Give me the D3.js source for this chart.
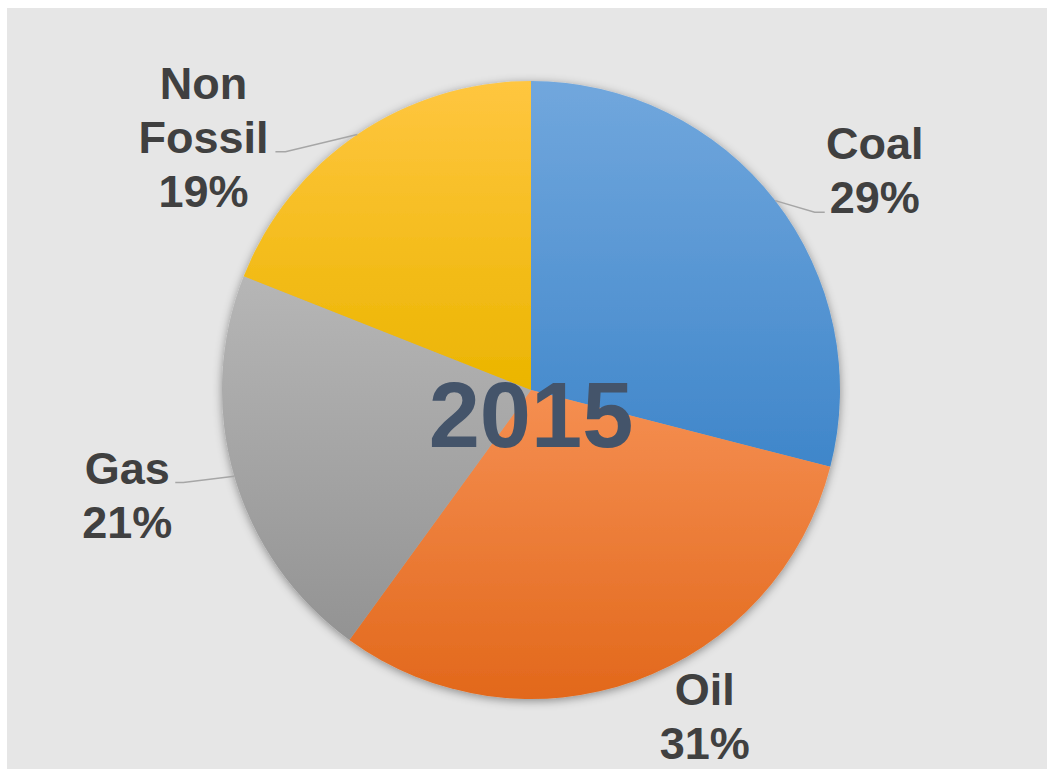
<!DOCTYPE html>
<html>
<head>
<meta charset="utf-8">
<script src="https://cdn.jsdelivr.net/npm/d3@7"></script>
<style>
  html, body { margin: 0; padding: 0; background: #fff; }
  svg { display: block; }
</style>
</head>
<body>
<div id="app"></div>
<script>
// data
const categories = ['Coal', 'Oil', 'Gas', 'Non Fossil'];
const shares = [29, 31, 21, 19];
const labelLines = [['Coal', '29%'], ['Oil', '31%'], ['Gas', '21%'], ['Non', 'Fossil', '19%']];
const yearTitle = '2015';

const W = 1047, H = 769;
const cx = 531, cy = 390, R = 309;

// per-slice gradient colours (top -> bottom)
const gradTop = ['#71a7dd', '#f58f52', '#b6b6b6', '#ffc640'];
const gradBottom = ['#3f86ca', '#e2681b', '#939393', '#ebb500'];

// label placement: polar angle (deg) + radius of text block centre, leader end offset
const labelLayout = [
  { a: 57.4, r: 408, lead: [-50, 42], tail: -10 },
  { a: 151.9, r: 369, lead: null },
  { a: 255.5, r: 417, lead: [48, -12], tail: 8 },
  { a: 307.7, r: 414, lead: [72, 15], tail: 10 }
];

const svg = d3.select('#app').append('svg')
  .attr('width', W).attr('height', H);

const defs = svg.append('defs');
const shadow = defs.append('filter').attr('id', 'shadow')
  .attr('x', '-20%').attr('y', '-20%').attr('width', '140%').attr('height', '140%');
shadow.append('feDropShadow')
  .attr('dx', 0).attr('dy', 2).attr('stdDeviation', 5)
  .attr('flood-color', '#000').attr('flood-opacity', 0.4);

categories.forEach((c, i) => {
  const g = defs.append('linearGradient').attr('id', 'grad' + i)
    .attr('x1', 0).attr('y1', 0).attr('x2', 0).attr('y2', 1);
  g.append('stop').attr('offset', '0%').attr('stop-color', gradTop[i]);
  g.append('stop').attr('offset', '100%').attr('stop-color', gradBottom[i]);
});

svg.append('rect')
  .attr('x', 7).attr('y', 8).attr('width', W - 7).attr('height', H - 8)
  .attr('fill', '#e6e6e6');

const pie = d3.pie().sort(null).value(d => d)(shares);
const arc = d3.arc().innerRadius(0).outerRadius(R);

const chart = svg.append('g').attr('transform', `translate(${cx},${cy})`);

chart.append('g').attr('filter', 'url(#shadow)')
  .selectAll('path')
  .data(pie)
  .enter()
  .append('path')
  .attr('d', arc)
  .attr('fill', (d, i) => `url(#grad${i})`);

// labels + leader lines
const fontSize = 45, lineH = 54, capH = fontSize * 0.716;
const labels = chart.append('g')
  .attr('font-family', '"Liberation Sans", Arial, sans-serif')
  .attr('font-weight', 'bold')
  .attr('font-size', fontSize)
  .attr('fill', '#404040')
  .attr('text-anchor', 'middle');

pie.forEach((d, i) => {
  const L = labelLayout[i];
  const [lx, ly] = d3.pointRadial(L.a * Math.PI / 180, L.r);
  const lines = labelLines[i];
  const firstBase = ly - (lines.length - 1) * lineH / 2 + capH / 2;
  const t = labels.append('text').attr('x', lx).attr('y', firstBase);
  lines.forEach((s, j) => {
    t.append('tspan').attr('x', lx).attr('y', firstBase + j * lineH).text(s);
  });

  if (L.lead) {
    const mid = (d.startAngle + d.endAngle) / 2;
    const p0 = d3.pointRadial(mid, R);
    const p1 = [lx + L.lead[0] + L.tail, ly + L.lead[1]];
    const p2 = [lx + L.lead[0], ly + L.lead[1]];
    chart.append('path')
      .attr('d', d3.line()([p0, p1, p2]))
      .attr('fill', 'none')
      .attr('stroke', '#a6a6a6')
      .attr('stroke-width', 1.5);
  }
});

chart.append('text')
  .attr('x', 0).attr('y', 447 - cy)
  .attr('text-anchor', 'middle')
  .attr('font-family', '"Liberation Sans", Arial, sans-serif')
  .attr('font-weight', 'bold')
  .attr('font-size', 92)
  .attr('fill', '#44546a')
  .text(yearTitle);
</script>
</body>
</html>
